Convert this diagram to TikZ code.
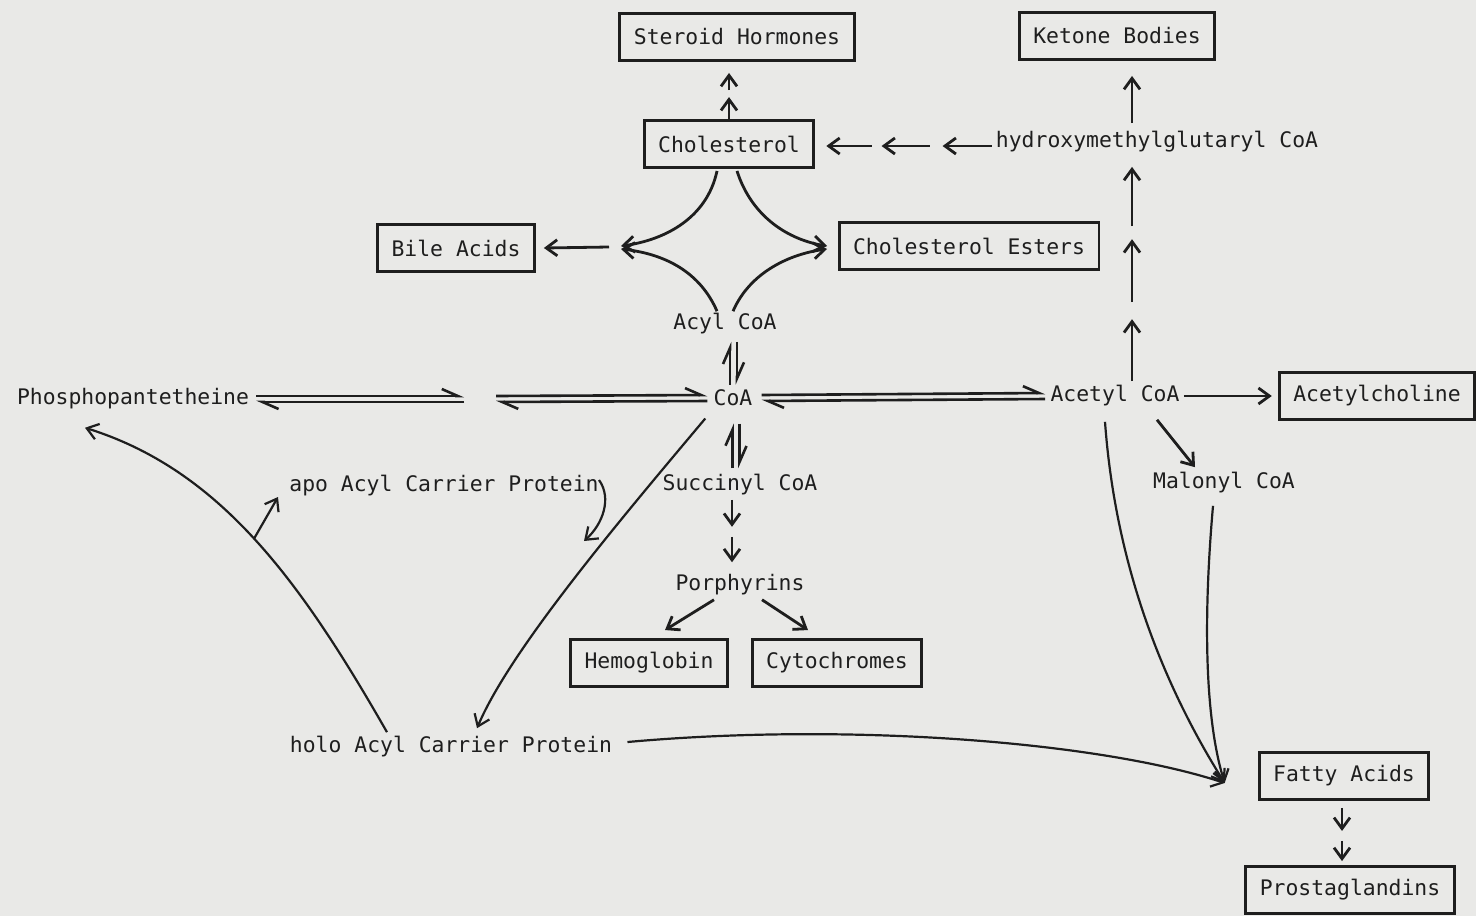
\documentclass[tikz,border=0pt]{standalone}
\usepackage{fontspec}
\setmainfont{DejaVu Sans Mono}
\usetikzlibrary{arrows.meta,calc}
\definecolor{paper}{HTML}{E9E9E7}
\definecolor{ink}{HTML}{1E1E1E}
\begin{document}
\begin{tikzpicture}[x=0.5pt,y=-0.5pt,
  every node/.style={font=\fontsize{10.7}{12}\selectfont, text=ink},
  box/.style={draw=ink, line width=1.45pt, inner xsep=7pt, minimum height=23.5pt},
  txt/.style={inner sep=2pt},
  arr/.style={draw=ink, line width=1.4pt, -{Straight Barb[length=5.5pt,width=8pt]}},
  harp/.style={draw=ink, line width=1.3pt, -{Straight Barb[left,length=8pt,width=7pt]}},
  thin/.style={draw=ink, line width=1.1pt, -{Straight Barb[length=5.5pt,width=8pt]}},
]
\fill[paper] (0,0) rectangle (1476,916);
\useasboundingbox (0,0) rectangle (1476,916);

% nodes
\node[box] (steroid) at (737,37) {Steroid Hormones};
\node[box] (chol) at (729,144) {Cholesterol};
\node[box] (ketone) at (1117,36) {Ketone Bodies};
\node[txt] (hmg) at (1157,142) {hydroxymethylglutaryl CoA};
\node[box] (bile) at (456,248) {Bile Acids};
\node[box] (cholest) at (969,246) {Cholesterol Esters};
\node[txt] (acyl) at (725,324) {Acyl CoA};
\node[txt] (phos) at (133,399) {Phosphopantetheine};
\node[txt] (coa) at (733,398) {CoA};
\node[txt] (acetyl) at (1115,396) {Acetyl CoA};
\node[box] (ach) at (1377,396) {Acetylcholine};
\node[txt] (apo) at (444,486) {apo Acyl Carrier Protein};
\node[txt] (succ) at (740,485) {Succinyl CoA};
\node[txt] (malonyl) at (1224,483) {Malonyl CoA};
\node[txt] (porph) at (740,585) {Porphyrins};
\node[box] (hemo) at (649,663) {Hemoglobin};
\node[box] (cyto) at (837,663) {Cytochromes};
\node[txt] (holo) at (451,747) {holo Acyl Carrier Protein};
\node[box] (fatty) at (1344,776) {Fatty Acids};
\node[box] (prosta) at (1350,890) {Prostaglandins};

\coordinate (colx) at (1132,0);
\coordinate (jL) at (621,247);
\coordinate (jR) at (827,247);
\coordinate (gapL) at (464,399);
\coordinate (gapR) at (496,399);
\coordinate (fa) at ($(fatty.west)+(-33,7)$);

% Cholesterol -> Steroid Hormones
\draw[arr] (chol.north) -- ++(0,-22);
\draw[arr] ($(chol.north)+(0,-29)$) -- ($(chol.north |- steroid.south)+(0,11)$);

% HMG CoA -> Cholesterol
\draw[arr] ($(hmg.west)+(0,4)$) -- ++(-49,0);
\draw[arr] ($(hmg.west)+(-62,4)$) -- ++(-48,0);
\draw[arr] ($(hmg.west)+(-120,4)$) -- ($(chol.east |- hmg.west)+(11,4)$);

% HMG CoA -> Ketone Bodies
\draw[arr] ($(colx |- hmg.north)+(0,-4)$) -- ($(colx |- ketone.south)+(0,15)$);

% Acetyl CoA -> HMG CoA
\draw[arr] (colx |- acetyl.north) -- ++(0,-62);
\draw[arr] ($(colx |- acetyl.north)+(0,-79)$) -- ++(0,-63);
\draw[arr] ($(colx |- acetyl.north)+(0,-155)$) -- ($(colx |- hmg.south)+(0,10)$);

% Cholesterol / Acyl CoA -> Bile Acids, Cholesterol Esters
\draw[arr] ($(chol.south)+(-12,2)$) .. controls (707,218) and (665,240) .. ($(jL)+(0,-1)$);
\draw[arr] ($(acyl.north)+(-8,2)$) .. controls (700,272) and (665,254) .. ($(jL)+(0,2)$);
\draw[arr] ($(jL)+(-12,0)$) -- ($(bile.east)+(8,0)$);
\draw[arr] ($(chol.south)+(8,2)$) .. controls (752,218) and (790,240) .. ($(jR)+(0,-1)$);
\draw[arr] ($(acyl.north)+(8,2)$) .. controls (750,272) and (790,254) .. ($(jR)+(0,2)$);

% Acyl CoA <=> CoA
\draw[harp] ($(coa.north)+(-3,-1)$) -- ($(coa.north |- acyl.south)+(-3,3)$);
\draw[harp] ($(coa.north |- acyl.south)+(4,3)$) -- ($(coa.north)+(4,-1)$);

% CoA <=> Succinyl CoA
\draw[harp] ($(coa.south |- succ.north)+(-0.5,-2)$) -- ($(coa.south)+(-0.5,13)$);
\draw[harp] ($(coa.south)+(6.5,13)$) -- ($(coa.south |- succ.north)+(6.5,-2)$);

% Phosphopantetheine <=> ... <=> CoA <=> Acetyl CoA
\draw[harp] ($(phos.east)+(3,-3)$) -- ($(gapL)+(0,-3)$);
\draw[harp] ($(gapL)+(0,3)$) -- ($(phos.east)+(3,3)$);
\draw[harp] ($(gapR)+(0,-3)$) -- ($(coa.west)+(-2,-3)$);
\draw[harp] ($(coa.west)+(-2,3)$) -- ($(gapR)+(0,3)$);
\draw[harp] ($(coa.east)+(5,-3)$) -- ($(acetyl.west)+(-1,-3)$);
\draw[harp] ($(acetyl.west)+(-1,3)$) -- ($(coa.east)+(5,3)$);

% Acetyl CoA -> Acetylcholine, Malonyl CoA
\draw[arr] (acetyl.east) -- ($(ach.west)+(-6,0)$);
\draw[arr] ($(acetyl.south)+(42,9)$) -- ($(malonyl.north)+(-29,-1)$);

% -> Fatty Acids
\draw[thin] ($(acetyl.south)+(-10,11)$) .. controls (1115,560) and (1160,680) .. (fa);
\draw[thin] ($(malonyl.south)+(-11,8)$) .. controls (1203,620) and (1205,720) .. (fa);
\draw[thin] ($(holo.east)+(11,-5)$) .. controls (850,722) and (1100,742) .. (fa);

% Fatty Acids -> Prostaglandins
\draw[arr] ($(fatty.south)+(-2,7)$) -- ++(0,23);
\draw[arr] ($(fatty.south)+(-2,40)$) -- ($(fatty.south |- prosta.north)+(-2,-4)$);

% Succinyl CoA -> Porphyrins
\draw[arr] ($(succ.south)+(-8,0)$) -- ++(0,27);
\draw[arr] ($(succ.south)+(-8,37)$) -- ($(porph.north)+(-8,-8)$);

% Porphyrins -> Hemoglobin, Cytochromes
\draw[arr] ($(porph.south)+(-26,0)$) -- ($(hemo.north)+(16,-8)$);
\draw[arr] ($(porph.south)+(22,0)$) -- ($(cyto.north)+(-29,-8)$);

% CoA -> holo ACP
\draw[thin] ($(coa.south west)+(-4,8)$) .. controls (620,520) and (510,650) .. ($(holo.north)+(26,-4)$);
% apo ACP joins
\coordinate (apoend) at (584,541);
\draw[thin] ($(apo.east)+(-4,-6)$) .. controls (612,498) and (603,524) .. (apoend);

% holo ACP -> Phosphopantetheine
\draw[thin] ($(holo.north)+(-64,0)$) .. controls (300,580) and (220,470) .. ($(phos.south)+(-48,14)$) coordinate[pos=0.5] (br);
\draw[thin] (br) -- ($(apo.west)+(-7,11)$);
\end{tikzpicture}
\end{document}
